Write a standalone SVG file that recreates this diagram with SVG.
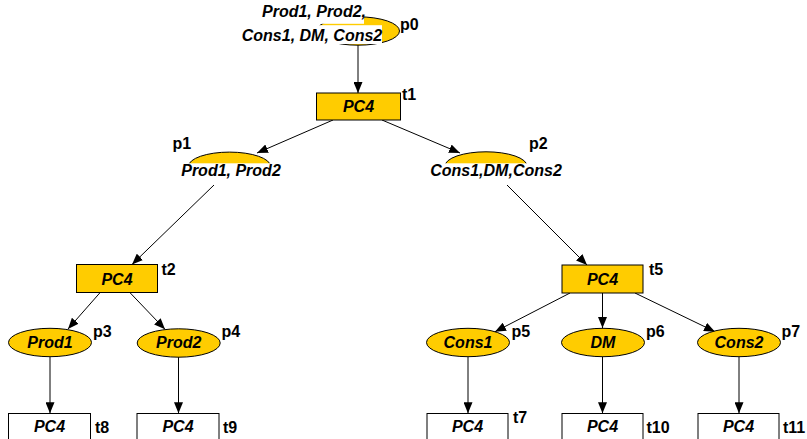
<svg xmlns="http://www.w3.org/2000/svg" width="807" height="439" viewBox="0 0 807 439">
<style>
.pl{fill:#FFCC00;stroke:#000;stroke-width:1}
.tr{fill:#FFCC00;stroke:#000;stroke-width:1}
.tw{fill:#fff;stroke:#000;stroke-width:1}
.n{font-family:"Liberation Sans",Arial,sans-serif;font-size:16px;font-weight:bold;font-style:italic;text-anchor:middle;fill:#000}
.lb{font-family:"Liberation Sans",Arial,sans-serif;font-size:16px;font-weight:bold;fill:#000}
.bg{fill:#fff;stroke:none}
.c line{stroke:#000;stroke-width:1;marker-end:url(#ah)}
</style>
<defs>
<marker id="ah" markerUnits="userSpaceOnUse" markerWidth="11" markerHeight="9" refX="11" refY="4.5" orient="auto">
<path d="M0,0 L11,4.5 L0,9 z" fill="#000"/>
</marker>
</defs>
<rect width="807" height="439" fill="#fff"/>
<g class="c" id="connectors">
<line x1="358" y1="45" x2="358" y2="93"/>
<line x1="333" y1="120" x2="257" y2="153"/>
<line x1="382" y1="120" x2="460" y2="153"/>
<line x1="214" y1="185" x2="132" y2="264.5"/>
<line x1="507" y1="185" x2="587" y2="265"/>
<line x1="100" y1="292.7" x2="68" y2="329"/>
<line x1="130" y1="292.7" x2="165" y2="329.3"/>
<line x1="570" y1="293" x2="495" y2="331.7"/>
<line x1="602.5" y1="293" x2="602.5" y2="328"/>
<line x1="635" y1="293" x2="715" y2="331.7"/>
<line x1="50" y1="357" x2="50" y2="413.3"/>
<line x1="178.5" y1="357" x2="178.5" y2="413.3"/>
<line x1="468" y1="357" x2="468" y2="413.3"/>
<line x1="602.5" y1="357" x2="602.5" y2="413.3"/>
<line x1="739" y1="357" x2="739" y2="413.3"/>
</g>
<g id="p0">
<ellipse class="pl" cx="358" cy="31" rx="41.5" ry="14.2"/>
<rect class="bg" x="258" y="0" width="106" height="23.8"/>
<rect class="bg" x="240" y="25.2" width="142" height="18.8"/>
<text class="n" x="314" y="17">Prod1, Prod2,</text>
<text class="n" x="312" y="40.5">Cons1, DM, Cons2</text>
<text class="lb" x="400" y="30">p0</text>
</g>
<g id="t1">
<rect class="tr" x="316.5" y="93" width="84" height="27"/>
<text class="n" x="358.5" y="111.7">PC4</text>
<text class="lb" x="402" y="100">t1</text>
</g>
<g id="p1">
<ellipse class="pl" cx="229.5" cy="166.3" rx="41" ry="14.2"/>
<rect class="bg" x="176" y="163.3" width="110" height="21"/>
<text class="n" x="231" y="176">Prod1, Prod2</text>
<text class="lb" x="172.5" y="149">p1</text>
</g>
<g id="p2">
<ellipse class="pl" cx="486" cy="166" rx="41" ry="14.2"/>
<rect class="bg" x="426" y="163.3" width="140" height="21"/>
<text class="n" x="496" y="176">Cons1,DM,Cons2</text>
<text class="lb" x="529" y="149">p2</text>
</g>
<g id="t2">
<rect class="tr" x="76.5" y="264.5" width="81" height="28"/>
<text class="n" x="117" y="285">PC4</text>
<text class="lb" x="161.5" y="275">t2</text>
</g>
<g id="t5">
<rect class="tr" x="562" y="265" width="81" height="28"/>
<text class="n" x="602.5" y="285">PC4</text>
<text class="lb" x="649" y="275">t5</text>
</g>
<g id="p3">
<ellipse class="pl" cx="50" cy="342.5" rx="41.5" ry="14.2"/>
<text class="n" x="50" y="348">Prod1</text>
<text class="lb" x="93" y="336.5">p3</text>
</g>
<g id="p4">
<ellipse class="pl" cx="178.7" cy="343" rx="41.5" ry="14.2"/>
<text class="n" x="178.7" y="348">Prod2</text>
<text class="lb" x="221.5" y="336.5">p4</text>
</g>
<g id="p5">
<ellipse class="pl" cx="468" cy="342.5" rx="41.5" ry="14.2"/>
<text class="n" x="468" y="348">Cons1</text>
<text class="lb" x="511.5" y="336.5">p5</text>
</g>
<g id="p6">
<ellipse class="pl" cx="603" cy="342.5" rx="41.5" ry="14.2"/>
<text class="n" x="603" y="348">DM</text>
<text class="lb" x="646" y="336.5">p6</text>
</g>
<g id="p7">
<ellipse class="pl" cx="739" cy="342.5" rx="41.5" ry="14.2"/>
<text class="n" x="739" y="348">Cons2</text>
<text class="lb" x="781.5" y="336.5">p7</text>
</g>
<g id="t8">
<rect class="tw" x="8.5" y="413.5" width="82" height="28"/>
<text class="n" x="49.5" y="432">PC4</text>
<text class="lb" x="95" y="432.5">t8</text>
</g>
<g id="t9">
<rect class="tw" x="137" y="413.5" width="82" height="28"/>
<text class="n" x="178" y="432">PC4</text>
<text class="lb" x="223" y="432.5">t9</text>
</g>
<g id="t7">
<rect class="tw" x="427" y="413.5" width="81" height="28"/>
<text class="n" x="467.5" y="432">PC4</text>
<text class="lb" x="513" y="422.5">t7</text>
</g>
<g id="t10">
<rect class="tw" x="562" y="413.5" width="81" height="28"/>
<text class="n" x="602.5" y="432">PC4</text>
<text class="lb" x="646.5" y="432.5">t10</text>
</g>
<g id="t11">
<rect class="tw" x="698" y="413.5" width="81" height="28"/>
<text class="n" x="738.5" y="432">PC4</text>
<text class="lb" x="783" y="432.5">t11</text>
</g>
</svg>
